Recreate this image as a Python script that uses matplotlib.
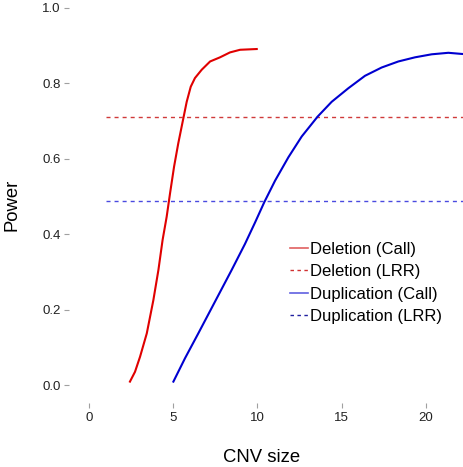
import matplotlib
matplotlib.use("Agg")
import matplotlib.pyplot as plt
from matplotlib.lines import Line2D

plt.rcParams['font.family'] = ['Liberation Sans', 'DejaVu Sans']

# Deletion (Call) power curve
del_size = [2.43, 2.73, 3.03, 3.43, 3.82, 4.12, 4.37, 4.61, 4.81, 5.05, 5.30,
            5.60, 5.80, 6.04, 6.29, 6.69, 7.19, 7.78, 8.37, 8.97, 9.96]
del_power = [0.009, 0.035, 0.075, 0.137, 0.225, 0.305, 0.385, 0.446, 0.508, 0.579,
             0.641, 0.707, 0.751, 0.791, 0.814, 0.836, 0.858, 0.869, 0.882, 0.889, 0.891]

# Duplication (Call) power curve
dup_size = [5.01, 5.70, 6.49, 7.48, 8.47, 9.26, 9.86, 10.41, 11.05, 11.84, 12.63,
            13.58, 14.41, 15.40, 16.39, 17.38, 18.37, 19.36, 20.35, 21.34, 22.13, 22.5]
dup_power = [0.009, 0.071, 0.137, 0.221, 0.305, 0.374, 0.431, 0.485, 0.542, 0.604, 0.659,
             0.712, 0.751, 0.787, 0.820, 0.842, 0.858, 0.869, 0.877, 0.881, 0.878, 0.877]

# LRR power levels (constant)
lrr_size = [1, 22.5]
del_lrr = [0.712, 0.712]
dup_lrr = [0.489, 0.489]

labels = ['Deletion (Call)', 'Deletion (LRR)', 'Duplication (Call)', 'Duplication (LRR)']

fig = plt.figure(figsize=(4.63, 4.67), dpi=100)
ax = fig.add_axes([69/463, 64/467, 394/463, 403/467])

ax.plot(del_size, del_power, color='#e00000', lw=1.5)
ax.plot(lrr_size, del_lrr, color='#d03a3a', lw=1.0, linestyle=(0, (2.9, 2.9)))
ax.plot(dup_size, dup_power, color='#0000d0', lw=1.5)
ax.plot(lrr_size, dup_lrr, color='#4a4ae0', lw=1.0, linestyle=(0, (2.9, 2.9)))

ax.set_xlim(-1.19, 22.21)
ax.set_ylim(-0.0477, 1.021)
ax.set_xticks([0, 5, 10, 15, 20])
ax.set_yticks([0.0, 0.2, 0.4, 0.6, 0.8, 1.0])
ax.set_yticklabels(['0.0', '0.2', '0.4', '0.6', '0.8', '1.0'])
for s in ax.spines.values():
    s.set_visible(False)
ax.tick_params(axis='both', direction='out', length=3.6, width=0.8,
               color='#a0a0a0', labelsize=9.5, labelcolor='#222222')
ax.tick_params(axis='y', pad=2.2)
ax.tick_params(axis='x', pad=2.8)

fig.text(12/463, 1 - 205/467, 'Power', rotation=90, ha='center', va='center', fontsize=13.3)
fig.text(262/463, 1 - 457/467, 'CNV size', ha='center', va='center', fontsize=13.3)

handles = [Line2D([], [], color='#e06060', lw=1.2),
           Line2D([], [], color='#d03030', lw=1.0, linestyle=(0, (2.5, 2.5))),
           Line2D([], [], color='#6060e0', lw=1.2),
           Line2D([], [], color='#2020a0', lw=1.0, linestyle=(0, (2.5, 2.5)))]
ax.legend(handles, labels, loc='upper left', bbox_to_anchor=(0.561, 0.4006),
          frameon=False, fontsize=12, borderpad=0, borderaxespad=0,
          handlelength=1.05, handletextpad=0.15, labelspacing=0.45)

fig.savefig('out.png', dpi=100)
